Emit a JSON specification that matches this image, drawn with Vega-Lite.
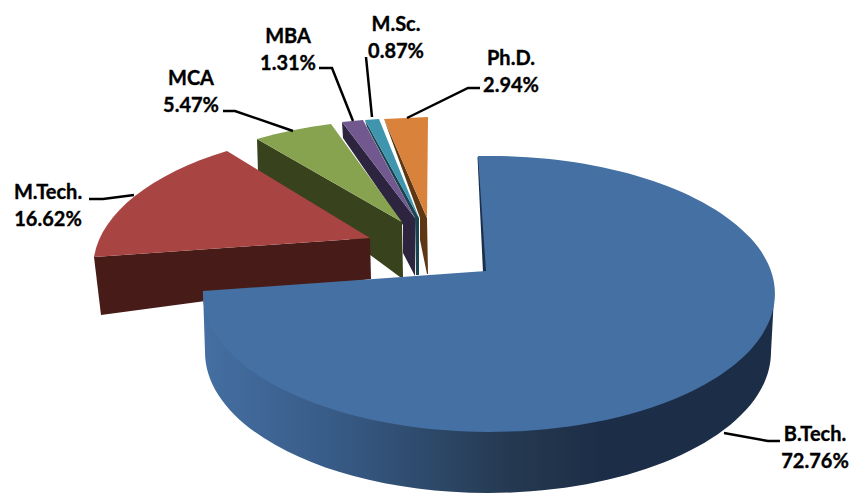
{
"$schema":"https://vega.github.io/schema/vega-lite/v6.json",
"width":850,"height":493,"padding":0,"autosize":{"type":"fit","contains":"padding"},
"background":"white","config":{"view":{"stroke":null}},
"data":{"values":[
{"slice":"Ph.D.","share":0.0294},
{"slice":"M.Sc.","share":0.0087},
{"slice":"MBA","share":0.0131},
{"slice":"MCA","share":0.0547},
{"slice":"M.Tech.","share":0.1662},
{"slice":"B.Tech.","share":0.7276}
]},
"layer":[
{"mark":{"type":"point","filled":true,"opacity":1,"size":4},
 "encoding":{
 "shape":{"field":"slice","type":"nominal","legend":null,"scale":{"domain":["Ph.D.","M.Sc.","MBA","MCA","M.Tech.","B.Tech."],"range":[
 "M -41 -127.5 L -5 -28.5 L -5 -6.5 L 2 27.5 L 3 27.5 L 2 -28.5 Z",
 "M -60 -126.5 L -58 -119.5 L -10 -28.5 L -9 28.5 L -6 28.5 L -6 -28.5 Z",
 "M -83 -124.5 L -82 -108.5 L -22 -21.5 L -22 6.5 L -10 29.5 L -10 -28.5 Z",
 "M -168 -107.5 L -23 -24.5 L -22 30.5 L -25 30.5 L -167 -74.5 Z",
 "M -331 10.5 L -324 68.5 L -54 32.5 L -55 -8.5 Z",
 "M 52.5 -89.5 L 58 25.5 L 62 25.5 L 55 -89.5 Z"]}},
 "fill":{"field":"slice","type":"nominal","legend":null,"scale":{"domain":["Ph.D.","M.Sc.","MBA","MCA","M.Tech.","B.Tech."],"range":["#5e3815","#1a4450","#2d2440","#38431e","#471c18","#1a2f4d"]}}}},
{"mark":{"type":"point","filled":true,"opacity":1,"size":4},
 "encoding":{
 "shape":{"field":"slice","type":"nominal","legend":null,"scale":{"domain":["Ph.D.","M.Sc.","MBA","MCA","M.Tech.","B.Tech."],"range":[
 "M -41 -127.5 L 3 -129.5 L 2 -28.5 Z",
 "M -60 -126.5 L -46 -127.5 L -6 -28.5 Z",
 "M -83 -124.5 L -62 -126.5 L -10 -28.5 Z",
 "M -23 -24.5 L -168 -107.5 A 287 138 0 0 1 -94 -122.5 Z",
 "M -55 -8.5 L -198 -95.5 A 287 138 0 0 0 -331 10.5 Z",
 "M 0 0"]}},
 "fill":{"field":"slice","type":"nominal","legend":null,"scale":{"domain":["Ph.D.","M.Sc.","MBA","MCA","M.Tech.","B.Tech."],"range":["#d9823b","#3f95ad","#71588f","#87a34f","#a84543","#4470a3"]}}}},
{"transform":[{"filter":"datum.slice === 'B.Tech.'"}],
 "mark":{"type":"point","filled":true,"opacity":1,"size":4,
 "shape":"M -222 44.5 L -220 105.5 A 283 141 0 0 0 346 105.5 L 349 50.5 A 286 138 0 0 1 -222 44.5 Z",
 "fill":{"x1":0,"y1":0,"x2":1,"y2":0,"gradient":"linear","stops":[{"offset":0,"color":"#456fa2"},{"offset":0.24,"color":"#375a85"},{"offset":0.55,"color":"#24384f"},{"offset":0.7,"color":"#1c2e47"},{"offset":1,"color":"#1c2e47"}]}},
 "encoding":{}},
{"transform":[{"filter":"datum.slice === 'B.Tech.'"}],
 "mark":{"type":"point","filled":true,"opacity":1,"size":4,"fill":"#4470a3",
 "shape":"M 53 -90.5 A 286 138 0 1 1 -222 44.5 L 61 24.5 Z"},
 "encoding":{}},
{"mark":{"type":"point","filled":false,"opacity":1,"size":4,"stroke":"#000000","strokeWidth":2.5,"fill":"transparent"},
 "encoding":{
 "shape":{"field":"slice","type":"nominal","legend":null,"scale":{"domain":["Ph.D.","M.Sc.","MBA","MCA","M.Tech.","B.Tech."],"range":[
 "M -18 -128.5 L 43 -158.5 L 55 -158.5",
 "M -59 -189.5 L -53 -129.5",
 "M -106 -178.5 L -93 -178.5 L -72 -125.5",
 "M -202 -135.5 L -190 -135.5 L -132 -115.5",
 "M -336 -47.5 L -322 -47.5 L -291 -51.5",
 "M 299 186.5 L 343 194.5 L 355 194.5"]}}}},
{"mark":{"type":"text","font":"Lato","fontWeight":"bold","fontSize":20,"baseline":"middle","align":"center","color":"#000000","stroke":"#000000","strokeWidth":0.35,"dy":1},
 "encoding":{
 "x":{"field":"share","type":"quantitative","axis":null,"scale":{"nice":false,"zero":false,"domain":[0.0087,0.0131,0.0294,0.0547,0.1662,0.7276],"range":[396,288,511,191,48,815]}},
 "y":{"field":"share","type":"quantitative","axis":null,"scale":{"nice":false,"zero":false,"domain":[0.0087,0.0131,0.0294,0.0547,0.1662,0.7276],"range":[24,36,58,78,192,434]}},
 "text":{"field":"slice","type":"nominal"}}},
{"mark":{"type":"text","font":"Lato","fontWeight":"bold","fontSize":20,"baseline":"middle","align":"center","color":"#000000","stroke":"#000000","strokeWidth":0.35,"dy":28},
 "encoding":{
 "x":{"field":"share","type":"quantitative","axis":null},
 "y":{"field":"share","type":"quantitative","axis":null},
 "text":{"field":"share","type":"quantitative","format":".2%"}}}
],
"resolve":{"scale":{"shape":"independent","fill":"independent"}}
}
